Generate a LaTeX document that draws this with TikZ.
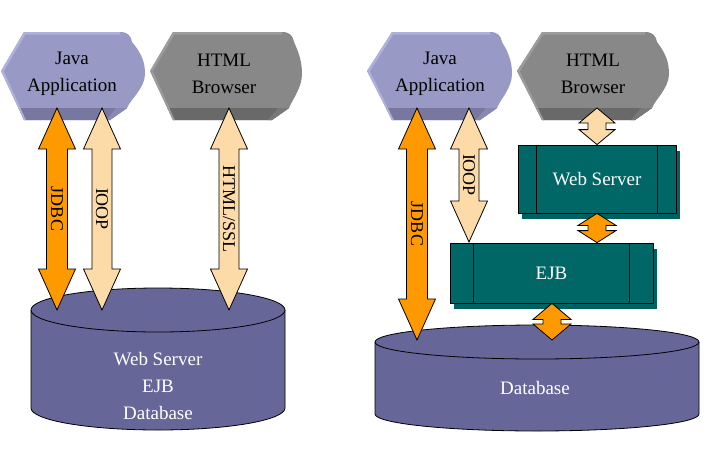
\documentclass[tikz,border=0pt]{standalone}
\usepackage{fontspec}
\setmainfont{Liberation Serif}
\usetikzlibrary{calc,shadows}
\definecolor{javac}{HTML}{9999C6}
\definecolor{javadark}{HTML}{77779F}
\definecolor{javalight}{HTML}{B0B0DD}
\definecolor{htmlc}{HTML}{888888}
\definecolor{htmldark}{HTML}{696969}
\definecolor{htmllight}{HTML}{9C9C9C}
\definecolor{orangec}{HTML}{FF9900}
\definecolor{peach}{HTML}{FCDBA8}
\definecolor{dbc}{HTML}{666699}
\definecolor{tealc}{HTML}{006666}
\definecolor{tealshadow}{HTML}{005F5F}
\newcommand\chevshape[7]{%
  \fill[#5] (#1,71) -- (#2,32) -- (#3,32) .. controls ({#3+8},32) and ({#3+11},36) .. ({#3+12},42) .. controls ({#4-2},55) and (#4,64) .. (#4,74) .. controls (#4,88) and ({#3+10},100) .. ({#3+7},108) -- ({#3-10},120) -- (#2,120) -- cycle;
  \begin{scope}
    \clip (#1,71) -- (#2,32) -- (#3,32) .. controls ({#3+8},32) and ({#3+11},36) .. ({#3+12},42) .. controls ({#4-2},55) and (#4,64) .. (#4,74) .. controls (#4,88) and ({#3+10},100) .. ({#3+7},108) -- ({#3-10},120) -- (#2,120) -- cycle;
    \fill[#6] (#1,108) rectangle (#4,122);
    \fill[#5!50!#6] ({#3-10},120) -- ({#3+7},108) -- ({#3-4},108) -- ({#3-14},120) -- cycle;
    \draw[#7, line width=5pt] (#2,122) -- (#1,71) -- (#2,32) -- (#3,32);
  \end{scope}}
\newcommand\blkarrow[6]{%
  \draw[outline, fill=#1] let \p1=(#2), \p2=(#3) in
    (\x1,\y1) -- (\x1+#4,\y1-#6) -- (\x1+#5,\y1-#6) -- (\x1+#5,\y2+#6) -- (\x1+#4,\y2+#6)
    -- (\x1,\y2) -- (\x1-#4,\y2+#6) -- (\x1-#5,\y2+#6) -- (\x1-#5,\y1-#6) -- (\x1-#4,\y1-#6) -- cycle;}
\begin{document}
\begin{tikzpicture}[x=1pt,y=-1pt,
  lbl/.style={font=\fontsize{19}{27}\selectfont, align=center, inner sep=0pt},
  wlbl/.style={lbl, text=white},
  alabel/.style={font=\fontsize{18}{20}\selectfont, rotate=-90, inner sep=0pt},
  outline/.style={draw=black, line width=0.8pt},
  tealbox/.style={outline, fill=tealc, text=white, font=\fontsize{19}{27}\selectfont, inner sep=0pt,
    drop shadow={shadow xshift=4pt, shadow yshift=-6pt, fill=tealshadow, opacity=1}},
  innerline/.style={draw=black, line width=0.8pt}]
\useasboundingbox (0,0) rectangle (710,448);

% ---------- Left diagram ----------
\chevshape{1}{24}{120}{145}{javac}{javadark}{javalight}
\node[lbl] (japL) at (72,74) {Java\\Application};
\chevshape{150}{173}{282}{302}{htmlc}{htmldark}{htmllight}
\node[lbl] (htmL) at (224,74) {HTML\\Browser};

% cylinder
\fill[dbc] (31,310) -- (31,408) arc[start angle=180, end angle=360, x radius=127pt, y radius=22pt] -- (285,310) -- cycle;
\draw[outline] (31,310) -- (31,408) arc[start angle=180, end angle=360, x radius=127pt, y radius=22pt] -- (285,310);
\draw[outline, fill=dbc] (158,310) ellipse[x radius=127pt, y radius=22pt];
\node[wlbl] (dbL) at (158,386) {Web Server\\EJB\\Database};

\coordinate (jdbcLt) at (57,108);  \coordinate (jdbcLb) at (57,310);
\coordinate (ioopLt) at (102,108); \coordinate (ioopLb) at (102,310);
\coordinate (sslLt) at (229,108);  \coordinate (sslLb) at (229,310);
\blkarrow{orangec}{jdbcLt}{jdbcLb}{18.5pt}{10.5pt}{41pt}
\blkarrow{peach}{ioopLt}{ioopLb}{18.5pt}{10pt}{41pt}
\blkarrow{peach}{sslLt}{sslLb}{18.5pt}{10pt}{41pt}
\node[alabel] at ($(jdbcLt)!0.5!(jdbcLb)$) {JDBC};
\node[alabel] at ($(ioopLt)!0.5!(ioopLb)$) {IOOP};
\node[alabel] at ($(sslLt)!0.5!(sslLb)$) {HTML/SSL};

% ---------- Right diagram ----------
\chevshape{367}{392}{490}{512}{javac}{javadark}{javalight}
\node[lbl] (japR) at (440,74) {Java\\Application};
\chevshape{517}{542}{645}{669}{htmlc}{htmldark}{htmllight}
\node[lbl] (htmR) at (593,74) {HTML\\Browser};

% database
\fill[dbc] (375,342) -- (375,414) arc[start angle=180, end angle=360, x radius=162pt, y radius=17pt] -- (699,342) -- cycle;
\draw[outline] (375,342) -- (375,414) arc[start angle=180, end angle=360, x radius=162pt, y radius=17pt] -- (699,342);
\draw[outline, fill=dbc] (537,342) ellipse[x radius=162pt, y radius=17pt];
\node[wlbl] (dbR) at (535,388) {Database};

% boxes
\node[tealbox, minimum width=158pt, minimum height=68pt] (ws) at (597,179) {Web Server};
\draw[innerline] ([xshift=19pt]ws.north west) -- ([xshift=19pt]ws.south west);
\draw[innerline] ([xshift=-19pt]ws.north east) -- ([xshift=-19pt]ws.south east);
\node[tealbox, minimum width=203pt, minimum height=60pt] (ejb) at (551.5,273) {EJB};
\draw[innerline] ([xshift=24pt]ejb.north west) -- ([xshift=24pt]ejb.south west);
\draw[innerline] ([xshift=-24pt]ejb.north east) -- ([xshift=-24pt]ejb.south east);

\coordinate (jdbcRt) at (417,108); \coordinate (jdbcRb) at (417,340);
\coordinate (ioopRt) at (469,108); \coordinate (ioopRb) at (469,242);
\coordinate (hbt) at (597,108);
\coordinate (ejbdb) at (552,340);
\blkarrow{orangec}{jdbcRt}{jdbcRb}{18.5pt}{10.5pt}{41pt}
\blkarrow{peach}{ioopRt}{ioopRb}{18.5pt}{10pt}{41pt}
\node[alabel] at ($(jdbcRt)!0.5!(jdbcRb)$) {JDBC};
\node[alabel] at ($(ioopRt)!0.5!(ioopRb)$) {IOOP};
\blkarrow{peach}{hbt}{ws.north}{18pt}{9pt}{15pt}
\blkarrow{orangec}{ws.south}{ejb.north -| ws.south}{19pt}{9pt}{12pt}
\blkarrow{orangec}{ejb.south -| ejbdb}{ejbdb}{19pt}{9pt}{16pt}
\end{tikzpicture}
\end{document}
